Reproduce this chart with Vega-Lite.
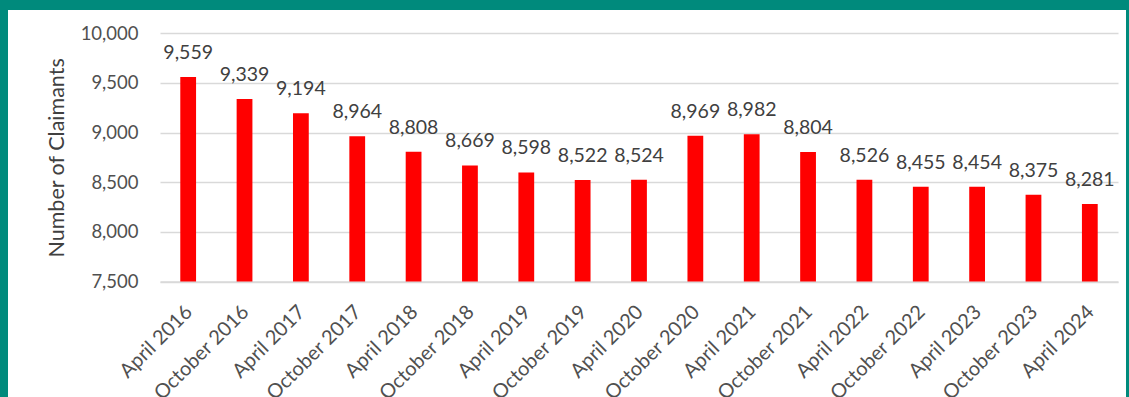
{
  "$schema": "https://vega.github.io/schema/vega-lite/v6.json",
  "width": 1118,
  "height": 387,
  "autosize": {"type": "none"},
  "padding": {"left": 8, "top": 10, "right": 3, "bottom": 0},
  "background": "#008A7C",
  "config": {"view": {"fill": "white", "stroke": null}, "font": "Lato"},
  "data": {"values": [
    {"period": "April 2016", "claimants": 9559},
    {"period": "October 2016", "claimants": 9339},
    {"period": "April 2017", "claimants": 9194},
    {"period": "October 2017", "claimants": 8964},
    {"period": "April 2018", "claimants": 8808},
    {"period": "October 2018", "claimants": 8669},
    {"period": "April 2019", "claimants": 8598},
    {"period": "October 2019", "claimants": 8522},
    {"period": "April 2020", "claimants": 8524},
    {"period": "October 2020", "claimants": 8969},
    {"period": "April 2021", "claimants": 8982},
    {"period": "October 2021", "claimants": 8804},
    {"period": "April 2022", "claimants": 8526},
    {"period": "October 2022", "claimants": 8455},
    {"period": "April 2023", "claimants": 8454},
    {"period": "October 2023", "claimants": 8375},
    {"period": "April 2024", "claimants": 8281}
  ]},
  "encoding": {
    "x": {
      "field": "period", "type": "nominal", "sort": null,
      "scale": {"range": [152, 1110], "paddingInner": 0.72, "paddingOuter": 0.36},
      "axis": {"title": null, "labelAngle": -45, "offset": -115.5, "domainColor": "#D9D9D9", "domainWidth": 1.5, "ticks": false,
               "labelFontSize": 20, "labelColor": "#505050", "labelPadding": 20, "labelOffset": -6}
    },
    "y": {
      "field": "claimants", "type": "quantitative",
      "scale": {"domain": [7500, 10000], "range": [271.5, 23.3], "zero": false, "nice": false},
      "axis": {"title": "Number of Claimants", "values": [7500, 8000, 8500, 9000, 9500, 10000], "format": ",d",
               "offset": -152, "domain": false, "ticks": false, "gridColor": "#D9D9D9", "gridWidth": 1.5,
               "labelPadding": 22, "labelFontSize": 18.5, "labelColor": "#505050",
               "titleFontSize": 21.5, "titleFontWeight": "normal", "titleColor": "#404040", "titlePadding": 12}
    }
  },
  "layer": [
    {"mark": {"type": "bar", "color": "#FF0000"}, "encoding": {"y2": {"datum": 7500}}},
    {"mark": {"type": "text", "baseline": "alphabetic", "dy": -18, "fontSize": 19.5, "color": "#404040"},
     "encoding": {"text": {"field": "claimants", "type": "quantitative", "format": ","}}}
  ]
}
